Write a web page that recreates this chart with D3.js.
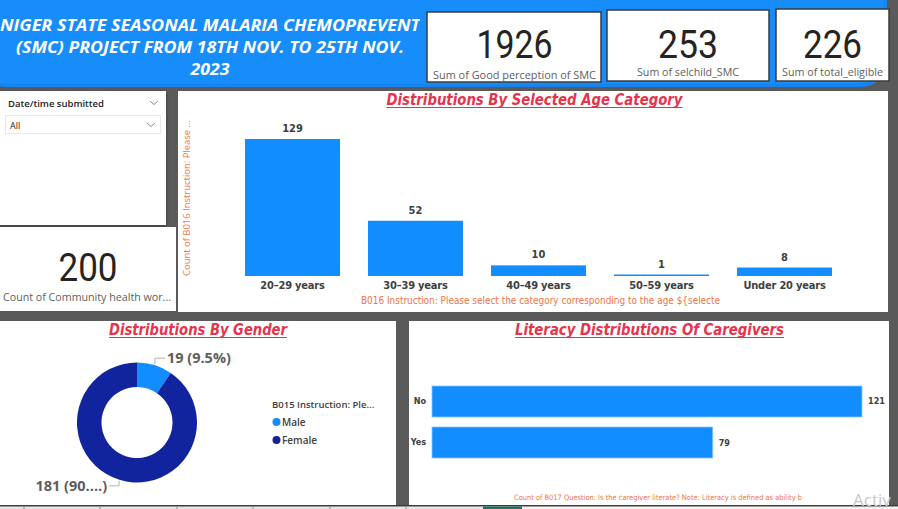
<!DOCTYPE html>
<html>
<head>
<meta charset="utf-8">
<script src="https://cdn.jsdelivr.net/npm/d3@7"></script>
<style>
  html, body { margin: 0; padding: 0; background: #5a5a5a; }
  svg { display: block; }
</style>
</head>
<body>
<svg id="chart" width="898" height="509"></svg>
<script>
// ---------------- DATA ----------------
const headerLines = ["NIGER STATE SEASONAL MALARIA CHEMOPREVENT", "(SMC) PROJECT FROM 18TH NOV. TO 25TH NOV.", "2023"];
const kpiValues = [1926, 253, 226];
const kpiLabels = ["Sum of Good perception of SMC", "Sum of selchild_SMC", "Sum of total_eligible"];
const chwValue = 200;
const chwLabel = "Count of Community health wor...";
const slicerTitle = "Date/time submitted";
const slicerValue = "All";

const ageTitle = "Distributions By Selected Age Category";
const ageCategories = ["20–29 years", "30–39 years", "40–49 years", "50–59 years", "Under 20 years"];
const ageCounts = [129, 52, 10, 1, 8];
const ageYTitle = "Count of B016 Instruction: Please ...";
const ageXTitle = "B016 Instruction: Please select the category corresponding to the age ${selecte";

const genderTitle = "Distributions By Gender";
const genderLabels = ["Male", "Female"];
const genderCounts = [19, 181];
const genderLegendTitle = "B015 Instruction: Ple...";

const literacyTitle = "Literacy Distributions Of Caregivers";
const literacyLabels = ["No", "Yes"];
const literacyCounts = [121, 79];
const literacyCaption = "Count of B017 Question: Is the caregiver literate? Note: Literacy is defined as ability b";

// ---------------- STYLE ----------------
const BLUE = "#118dff", DARKBLUE = "#12239e";
const TITLE_RED = "#e5344c", AXIS_ORANGE = "#ef7446";
const TXT = "#404040", TXT2 = "#605e5c";
const COND = "'Liberation Sans Narrow','DejaVu Sans Condensed','Roboto Condensed',sans-serif";
const SANS = "'Open Sans','Segoe UI',sans-serif";

const svg = d3.select("#chart");
const defs = svg.append("defs");
const sh = defs.append("filter").attr("id", "shadow").attr("x", "-5%").attr("y", "-5%").attr("width", "110%").attr("height", "120%");
sh.append("feDropShadow").attr("dx", 0).attr("dy", 2).attr("stdDeviation", 2).attr("flood-color", "#000").attr("flood-opacity", 0.35);

// background
svg.append("rect").attr("width", 898).attr("height", 509).attr("fill", "#5a5a5a");

// ---------------- HEADER ----------------
svg.append("rect").attr("x", -20).attr("y", -30).attr("width", 907).attr("height", 117)
  .attr("rx", 26).attr("fill", "#1583f0");
svg.append("rect").attr("x", -20).attr("y", -30).attr("width", 904).attr("height", 114)
  .attr("rx", 26).attr("fill", "#178dfb");
defs.append("clipPath").attr("id", "hdrclip").append("rect").attr("x", 0).attr("y", 0).attr("width", 420).attr("height", 88);
const hdr = svg.append("g").attr("clip-path", "url(#hdrclip)");
const hdrY = [31, 53, 75];
const hdrW = [420, 388, 39];
headerLines.forEach((t, i) => {
  hdr.append("text").attr("x", 210).attr("y", hdrY[i]).attr("text-anchor", "middle")
    .attr("font-family", SANS).attr("font-weight", 700).attr("font-style", "italic")
    .attr("font-size", 15.5).attr("fill", "#fff")
    .attr("textLength", hdrW[i]).attr("lengthAdjust", "spacingAndGlyphs").text(t);
});

// KPI cards
const cards = [
  {x: 427, y: 12, w: 174, h: 70, cx: 514.5, numW: 76, lblW: 163, lblY: 79},
  {x: 607, y: 10, w: 162, h: 71, cx: 688, numW: 60, lblW: 102, lblY: 76},
  {x: 776, y: 9, w: 113, h: 72, cx: 832.5, numW: 59, lblW: 101, lblY: 76}
];
cards.forEach((c, i) => {
  const g = svg.append("g");
  const cid = "cardclip" + i;
  defs.append("clipPath").attr("id", cid).append("rect").attr("x", c.x).attr("y", c.y).attr("width", c.w).attr("height", c.h - 1);
  g.append("rect").attr("x", c.x).attr("y", c.y).attr("width", c.w).attr("height", c.h)
    .attr("fill", "#fff").attr("stroke", "#3b3b3b").attr("stroke-width", 1.5);
  const gi = g.append("g").attr("clip-path", `url(#${cid})`);
  gi.append("text").attr("x", c.cx).attr("y", 58).attr("text-anchor", "middle")
    .attr("font-family", "Roboto, sans-serif").attr("font-size", 39).attr("fill", "#252423")
    .attr("textLength", c.numW).attr("lengthAdjust", "spacingAndGlyphs")
    .text(kpiValues[i]);
  gi.append("text").attr("x", c.cx).attr("y", c.lblY).attr("text-anchor", "middle")
    .attr("font-family", SANS).attr("font-size", 11.5).attr("fill", TXT2)
    .attr("textLength", c.lblW).attr("lengthAdjust", "spacingAndGlyphs")
    .text(kpiLabels[i]);
});

// ---------------- SLICER ----------------
svg.append("rect").attr("x", -2).attr("y", 91).attr("width", 168).attr("height", 134).attr("fill", "#fff").attr("filter", "url(#shadow)");
svg.append("text").attr("x", 8).attr("y", 107).attr("font-family", SANS).attr("font-weight", 600)
  .attr("font-size", 9.5).attr("fill", "#252423").text(slicerTitle);
const chev = (x, y) => svg.append("path").attr("d", `M${x},${y} l4,3.5 l4,-3.5`).attr("fill", "none").attr("stroke", "#8a8886").attr("stroke-width", 1);
chev(150, 101);
svg.append("rect").attr("x", 5.5).attr("y", 115.5).attr("width", 155).attr("height", 18)
  .attr("fill", "#fff").attr("stroke", "#e8e8e8");
svg.append("text").attr("x", 10).attr("y", 128.5).attr("font-family", SANS).attr("font-size", 9)
  .attr("fill", "#252423").text(slicerValue);
chev(147, 123);

// ---------------- CHW CARD ----------------
svg.append("rect").attr("x", -2).attr("y", 227).attr("width", 178).attr("height", 84).attr("fill", "#fff");
svg.append("text").attr("x", 88).attr("y", 281).attr("text-anchor", "middle")
  .attr("font-family", "Roboto, sans-serif").attr("font-size", 38).attr("fill", "#252423")
  .attr("textLength", 59).attr("lengthAdjust", "spacingAndGlyphs").text(chwValue);
svg.append("text").attr("x", 87).attr("y", 301).attr("text-anchor", "middle")
  .attr("font-family", SANS).attr("font-size", 11).attr("fill", TXT2)
  .attr("textLength", 168).attr("lengthAdjust", "spacingAndGlyphs").text(chwLabel);

// ---------------- AGE BAR CHART ----------------
svg.append("rect").attr("x", 178).attr("y", 91).attr("width", 710).attr("height", 221).attr("fill", "#fff");
function title(txt, cx, y, w) {
  svg.append("text").attr("x", cx).attr("y", y).attr("text-anchor", "middle")
    .attr("font-family", COND).attr("font-weight", 700).attr("font-style", "italic")
    .attr("font-size", 16).attr("fill", TITLE_RED)
    .attr("textLength", w).attr("lengthAdjust", "spacingAndGlyphs").text(txt);
  svg.append("line").attr("x1", cx - w / 2).attr("x2", cx + w / 2).attr("y1", y + 2.5).attr("y2", y + 2.5)
    .attr("stroke", TITLE_RED).attr("stroke-width", 1.2);
}
title(ageTitle, 534.5, 105, 296);

const xAge = d3.scaleBand().domain(ageCategories).range([231, 846]).paddingInner(0.228).paddingOuter(0.114);
const yAge = d3.scaleLinear().domain([0, d3.max(ageCounts)]).range([276, 139]);
const ageData = ageCategories.map((c, i) => ({c, v: ageCounts[i]}));

svg.append("g").selectAll("rect").data(ageData).join("rect")
  .attr("x", d => xAge(d.c)).attr("width", xAge.bandwidth())
  .attr("y", d => Math.min(yAge(d.v), yAge(0) - 1.5)).attr("height", d => Math.max(yAge(0) - yAge(d.v), 1.5))
  .attr("fill", BLUE);
svg.append("g").selectAll("text").data(ageData).join("text")
  .attr("x", d => xAge(d.c) + xAge.bandwidth() / 2).attr("y", d => yAge(d.v) - 7)
  .attr("text-anchor", "middle").attr("font-family", COND).attr("font-weight", 700)
  .attr("font-size", 11).attr("fill", TXT).text(d => d.v);

const axX = svg.append("g").attr("transform", "translate(0,277)")
  .call(d3.axisBottom(xAge).tickSize(0).tickPadding(4));
axX.select(".domain").remove();
axX.selectAll("text").attr("font-family", COND).attr("font-weight", 700).attr("font-size", 11)
  .attr("letter-spacing", -0.2).attr("fill", TXT);

svg.append("text").attr("transform", "translate(190,198) rotate(-90)").attr("text-anchor", "middle")
  .attr("font-family", SANS).attr("font-size", 8.5).attr("fill", AXIS_ORANGE)
  .attr("textLength", 156).attr("lengthAdjust", "spacingAndGlyphs").text(ageYTitle);
svg.append("text").attr("x", 540.5).attr("y", 304).attr("text-anchor", "middle")
  .attr("font-family", COND).attr("font-size", 10).attr("fill", AXIS_ORANGE)
  .attr("textLength", 359).attr("lengthAdjust", "spacingAndGlyphs").text(ageXTitle);

// ---------------- GENDER DONUT ----------------
svg.append("rect").attr("x", -2).attr("y", 321).attr("width", 398).attr("height", 184).attr("fill", "#fff");
title(genderTitle, 198, 335, 178);

const cx = 137, cy = 422.5, rOut = 60, rIn = 35.5;
const pie = d3.pie().sort(null).value(d => d.v);
const gData = pie(genderLabels.map((l, i) => ({l, v: genderCounts[i]})));
const arc = d3.arc().innerRadius(rIn).outerRadius(rOut);
const color = d3.scaleOrdinal().domain(genderLabels).range([BLUE, DARKBLUE]);
const gd = svg.append("g").attr("transform", `translate(${cx},${cy})`);
gd.selectAll("path").data(gData).join("path").attr("d", arc).attr("fill", d => color(d.data.l));

const total = d3.sum(genderCounts);
function lbl(d) {
  const t = `${d.data.v} (${+(d.data.v / total * 100).toFixed(1)}%)`;
  return t.length > 9 ? t.slice(0, 7) + "....)" : t;
}
gData.forEach(d => {
  const a = (d.startAngle + d.endAngle) / 2;
  const px = Math.sin(a) * (rOut + 1), py = -Math.cos(a) * (rOut + 1);
  const up = py < 0;
  const right = px > 0;
  const ey = up ? py - 6 : py + 5;
  const ex = px + (right ? 10 : -10);
  gd.append("path").attr("d", `M${px},${py} L${px},${ey} L${ex},${ey}`)
    .attr("fill", "none").attr("stroke", "#b3b0ad").attr("stroke-width", 1);
  gd.append("text").attr("x", ex + (right ? 2 : -2)).attr("y", ey + 5)
    .attr("text-anchor", right ? "start" : "end")
    .attr("font-family", SANS).attr("font-weight", 700).attr("font-size", 14.5).attr("fill", TXT2)
    .text(lbl(d));
});

svg.append("text").attr("x", 272).attr("y", 408).attr("font-family", SANS).attr("font-weight", 600)
  .attr("font-size", 9.5).attr("fill", TXT).text(genderLegendTitle);
genderLabels.forEach((l, i) => {
  const y = 422 + i * 18;
  svg.append("circle").attr("cx", 276.5).attr("cy", y).attr("r", 4).attr("fill", color(l));
  svg.append("text").attr("x", 282).attr("y", y + 3.5).attr("font-family", SANS).attr("font-weight", 600)
    .attr("font-size", 10).attr("fill", TXT).text(l);
});

// ---------------- LITERACY BAR CHART ----------------
svg.append("rect").attr("x", 409).attr("y", 321).attr("width", 480).attr("height", 184).attr("fill", "#fff");
title(literacyTitle, 649.5, 335, 269);

const yLit = d3.scaleBand().domain(literacyLabels).range([386, 458]).paddingInner(0.244).paddingOuter(0);
const xLit = d3.scaleLinear().domain([0, d3.max(literacyCounts)]).range([432, 862]);
const litData = literacyLabels.map((l, i) => ({l, v: literacyCounts[i]}));
svg.append("g").selectAll("rect").data(litData).join("rect")
  .attr("x", xLit(0)).attr("y", d => yLit(d.l)).attr("height", yLit.bandwidth())
  .attr("width", d => xLit(d.v) - xLit(0)).attr("fill", BLUE)
  .attr("stroke", "#8cc6ff").attr("stroke-width", 0.8);
svg.append("g").selectAll("text").data(litData).join("text")
  .attr("x", d => xLit(d.v) + 6).attr("y", d => yLit(d.l) + yLit.bandwidth() / 2 + 3)
  .attr("font-family", COND).attr("font-weight", 700).attr("font-size", 9).attr("fill", TXT).text(d => d.v);
const axY = svg.append("g").attr("transform", `translate(${xLit(0)},0)`)
  .call(d3.axisLeft(yLit).tickSize(0).tickPadding(6));
axY.select(".domain").remove();
axY.selectAll("text").attr("font-family", COND).attr("font-weight", 700).attr("font-size", 9).attr("fill", TXT);

svg.append("text").attr("x", 658).attr("y", 500).attr("text-anchor", "middle")
  .attr("font-family", COND).attr("font-size", 7.5).attr("fill", AXIS_ORANGE)
  .attr("textLength", 288).attr("lengthAdjust", "spacingAndGlyphs").text(literacyCaption);

// ---------------- BOTTOM TAB STRIP ----------------
svg.append("rect").attr("x", 0).attr("y", 505).attr("width", 898).attr("height", 1.5).attr("fill", "#3c3c3c");
svg.append("rect").attr("x", 0).attr("y", 506.5).attr("width", 522).attr("height", 3).attr("fill", "#e6e6e6");
svg.append("rect").attr("x", 522).attr("y", 506.5).attr("width", 376).attr("height", 3).attr("fill", "#f3f3f3");
svg.append("rect").attr("x", 483).attr("y", 506.5).attr("width", 39).attr("height", 3).attr("fill", "#1e7260");
[24, 100, 177, 253, 330, 406].forEach(x => {
  svg.append("line").attr("x1", x).attr("x2", x).attr("y1", 506.5).attr("y2", 509).attr("stroke", "#8a8a8a");
});

// watermark
svg.append("text").attr("x", 853).attr("y", 506).attr("font-family", SANS).attr("font-size", 17)
  .attr("fill", "#c9c9c9").text("Activ");
</script>
</body>
</html>
